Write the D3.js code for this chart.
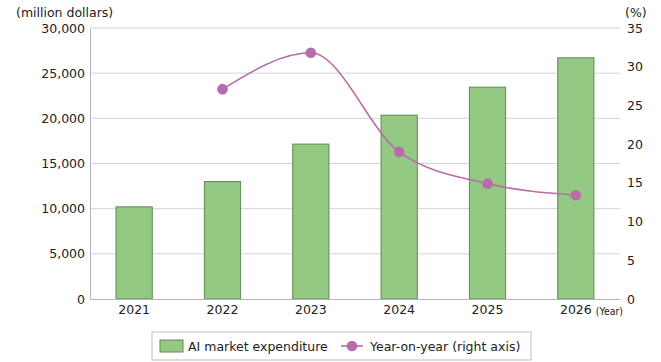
<!DOCTYPE html>
<html>
<head>
<meta charset="utf-8">
<script src="https://cdn.jsdelivr.net/npm/d3@7"></script>
<style>
  body { margin: 0; background: #fff; }
  svg text { font-family: "DejaVu Sans", "Noto Sans", sans-serif; fill: #222; }
</style>
</head>
<body>
<svg id="chart"></svg>
<script>
/* Data */
const years = ["2021", "2022", "2023", "2024", "2025", "2026"];
const expenditure = [10200, 13000, 17150, 20350, 23450, 26700];
const yoyYears = ["2022", "2023", "2024", "2025", "2026"];
const yoyValues = [27.1, 31.8, 19.0, 14.9, 13.4];
const leftTicks = [0, 5000, 10000, 15000, 20000, 25000, 30000];
const rightTicks = [0, 5, 10, 15, 20, 25, 30, 35];

/* Dimensions */
const W = 661, H = 362;
const margin = { top: 28, right: 41, bottom: 63, left: 90 };
const width = W - margin.left - margin.right;
const height = H - margin.top - margin.bottom;

const svg = d3.select("#chart").attr("width", W).attr("height", H);
const g = svg.append("g").attr("transform", `translate(${margin.left},${margin.top})`);

/* Scales */
const x = d3.scaleBand().domain(years).range([0, width]).paddingInner(0.59).paddingOuter(0.295);
const yL = d3.scaleLinear().domain([0, 30000]).range([height, 0]);
const yR = d3.scaleLinear().domain([0, 35]).range([height, 0]);
const xc = d => x(d) + x.bandwidth() / 2;

/* Gridlines */
g.selectAll(".grid")
  .data(leftTicks.slice(1))
  .join("line")
    .attr("x1", 0).attr("x2", width)
    .attr("y1", d => yL(d)).attr("y2", d => yL(d))
    .attr("stroke", "#d4d4d4").attr("stroke-width", 1);

/* Left axis */
const leftAxis = g.append("g")
  .call(d3.axisLeft(yL).tickValues(leftTicks).tickFormat(d3.format(",")).tickSize(0).tickPadding(5));
leftAxis.select(".domain").attr("stroke", "#b5b5b5");
leftAxis.selectAll("text").style("font-size", "12.5px");

/* Right axis */
const rightAxis = g.append("g")
  .attr("transform", `translate(${width},0)`)
  .call(d3.axisRight(yR).tickValues(rightTicks).tickSize(0).tickPadding(7));
rightAxis.select(".domain").remove();
rightAxis.selectAll("text").style("font-size", "12.5px");

/* Bars */
g.selectAll(".bar")
  .data(years)
  .join("rect")
    .attr("class", "bar")
    .attr("x", d => x(d))
    .attr("y", (d, i) => yL(expenditure[i]))
    .attr("width", x.bandwidth())
    .attr("height", (d, i) => height - yL(expenditure[i]))
    .attr("fill", "#93c983")
    .attr("stroke", "#5e8a50")
    .attr("stroke-width", 1);

/* Bottom axis */
const bottomAxis = g.append("g")
  .attr("transform", `translate(0,${height})`)
  .call(d3.axisBottom(x).tickSize(0).tickPadding(6));
bottomAxis.select(".domain").attr("stroke", "#b5b5b5");
bottomAxis.selectAll("text").style("font-size", "12.5px");

g.append("text")
  .attr("x", xc("2026") + 20)
  .attr("y", height + 16)
  .style("font-family", "'DejaVu Sans Condensed', 'DejaVu Sans', sans-serif")
  .style("font-size", "10.5px")
  .text("(Year)");

/* YoY line */
const line = d3.line()
  .x((d, i) => xc(yoyYears[i]))
  .y(d => yR(d))
  .curve(d3.curveMonotoneX);

g.append("path")
  .datum(yoyValues)
  .attr("d", line)
  .attr("fill", "none")
  .attr("stroke", "#b96cab")
  .attr("stroke-width", 1.6);

g.selectAll(".dot")
  .data(yoyValues)
  .join("circle")
    .attr("class", "dot")
    .attr("cx", (d, i) => xc(yoyYears[i]))
    .attr("cy", d => yR(d))
    .attr("r", 5.3)
    .attr("fill", "#b96cab");

/* Axis titles */
svg.append("text").attr("x", 16).attr("y", 17).style("font-size", "12.5px").text("(million dollars)");
svg.append("text").attr("x", 625).attr("y", 17).style("font-size", "12.5px").text("(%)");

/* Legend */
const legend = svg.append("g").attr("transform", "translate(152,332)");
legend.append("rect")
  .attr("width", 379).attr("height", 28)
  .attr("fill", "#fff").attr("stroke", "#bdbdbd");
legend.append("rect")
  .attr("x", 8).attr("y", 8).attr("width", 23).attr("height", 12)
  .attr("fill", "#93c983").attr("stroke", "#5e8a50");
legend.append("text").attr("x", 36).attr("y", 19).style("font-size", "12.5px").text("AI market expenditure");
legend.append("line")
  .attr("x1", 189).attr("x2", 211).attr("y1", 14).attr("y2", 14)
  .attr("stroke", "#b96cab").attr("stroke-width", 1.6);
legend.append("circle").attr("cx", 200).attr("cy", 14).attr("r", 5.3).attr("fill", "#b96cab");
legend.append("text").attr("x", 218).attr("y", 19).style("font-size", "12.5px").text("Year-on-year (right axis)");
</script>
</body>
</html>
